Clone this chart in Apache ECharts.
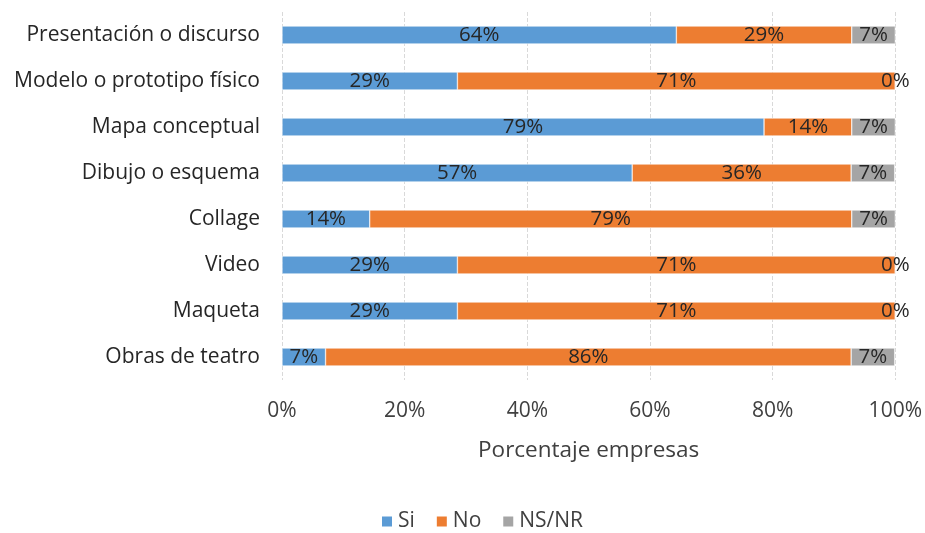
<!DOCTYPE html>
<html><head><meta charset="utf-8">
<script src="https://cdn.jsdelivr.net/npm/echarts@6/dist/echarts.min.js"></script>
<style>html,body{margin:0;padding:0;background:#fff}#c{width:925px;height:533px}</style>
</head><body><div id="c"></div>
<script>
const categories = ["Presentación o discurso","Modelo o prototipo físico","Mapa conceptual","Dibujo o esquema","Collage","Video","Maqueta","Obras de teatro"];
const si = [64.3, 28.6, 78.6, 57.1, 14.3, 28.6, 28.6, 7.1];
const no = [28.6, 71.4, 14.3, 35.7, 78.6, 71.4, 71.4, 85.7];
const nsnr = [7.1, 0, 7.1, 7.1, 7.1, 0, 0, 7.1];
const xTicks = [0, 20, 40, 60, 80, 100];

const FONT = "'Open Sans', 'Noto Sans', sans-serif";
const chart = echarts.init(document.getElementById('c'));
const lbl = {show:true, position:'inside', color:'#262626', fontSize:20.5, fontFamily:FONT,
  formatter: p => Math.round(p.value) + '%'};
function mk(name, data, color){
  return {name, type:'bar', stack:'t', data, barCategoryGap:'61%',
    itemStyle:{color, borderColor:'#fff', borderWidth:0.5}, label:lbl, emphasis:{disabled:true}};
}
chart.setOption({
  animation:false,
  textStyle:{fontFamily:FONT},
  grid:{left:282, right:27, top:12, bottom:153, containLabel:false},
  xAxis:{type:'value', min:0, max:100, interval:20,
    axisLabel:{formatter:'{value}%', color:'#404040', fontSize:21, margin:21, fontFamily:FONT},
    axisLine:{show:false}, axisTick:{show:false},
    splitLine:{show:true, lineStyle:{color:'#d9d9d9', type:'dashed', width:1}},
    name:'Porcentaje empresas', nameLocation:'middle', nameGap:59,
    nameTextStyle:{color:'#404040', fontSize:22.5, fontFamily:FONT}},
  yAxis:{type:'category', data:categories, inverse:true,
    axisLine:{show:false}, axisTick:{show:false},
    axisLabel:{color:'#262626', fontSize:21, margin:22, fontFamily:FONT}},
  legend:{top:506, left:375, itemWidth:12, itemHeight:12, itemGap:20, icon:'rect',
    textStyle:{color:'#404040', fontSize:21, fontFamily:FONT},
    data:['Si','No','NS/NR']},
  series:[mk('Si', si, '#5B9BD5'), mk('No', no, '#ED7D31'), mk('NS/NR', nsnr, '#A5A5A5')]
});
</script></body></html>
